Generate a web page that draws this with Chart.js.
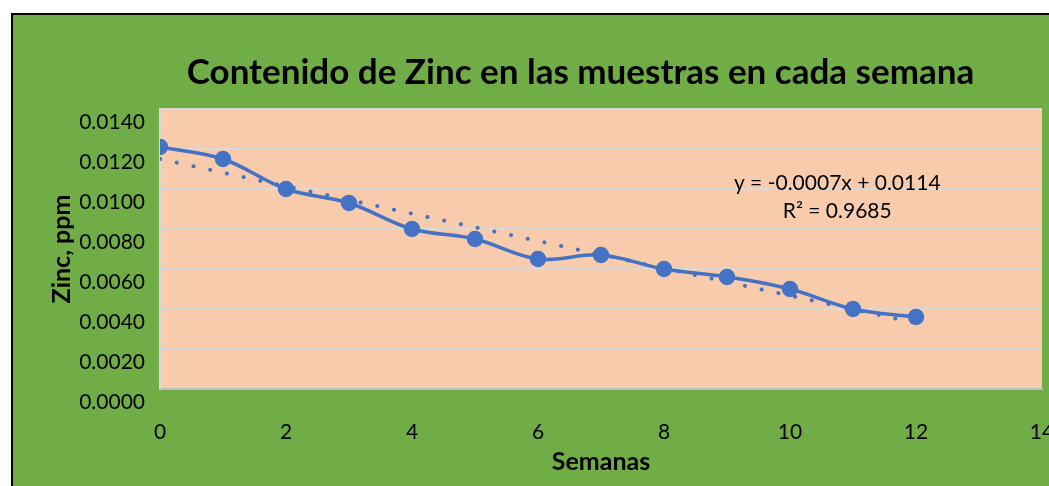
<!DOCTYPE html>
<html>
<head>
<meta charset="utf-8">
<script src="https://cdn.jsdelivr.net/npm/chart.js@4/dist/chart.umd.min.js"></script>
<style>
    body { margin: 0; background: #fff; overflow: hidden; width: 1049px; height: 486px; }
    .frame {
        position: absolute; left: 11px; top: 13px; width: 1200px; height: 600px;
        background: #70AD47; border-left: 2px solid #000; border-top: 2px solid #000;
    }
    #zincChart { position: absolute; left: 0; top: 0; }
</style>
</head>
<body>
<div class="frame"></div>
<canvas id="zincChart" width="1161" height="486"></canvas>
<script>
// values
const weeks = [0, 1, 2, 3, 4, 5, 6, 7, 8, 9, 10, 11, 12];
const zinc = [0.0121, 0.0115, 0.0100, 0.0093, 0.0080, 0.0075, 0.0065, 0.0067, 0.0060, 0.0056, 0.0050, 0.0040, 0.0036];
const trendWeeks = [0, 12];
const trendZinc = [0.0115, 0.0033];
const equationLines = ['y = -0.0007x + 0.0114', 'R\u00B2 = 0.9685'];
const equationAt = { x: 10.75, y: 0.0103 };

const chartTitle = 'Contenido de Zinc en las muestras en cada semana';
const xTitle = 'Semanas';
const yTitle = 'Zinc, ppm';

const blue = '#4472C4';

const plotBackground = {
    id: 'plotBackground',
    beforeDraw(chart) {
        const { ctx, chartArea } = chart;
        ctx.save();
        ctx.fillStyle = '#F8CBAD';
        ctx.fillRect(chartArea.left, chartArea.top, chartArea.right - chartArea.left, chartArea.bottom - chartArea.top);
        ctx.restore();
    }
};

// trendline equation, placed through the scales
const equationLabel = {
    id: 'equationLabel',
    afterDraw(chart) {
        const { ctx, scales } = chart;
        const px = scales.x.getPixelForValue(equationAt.x);
        const py = scales.y.getPixelForValue(equationAt.y);
        ctx.save();
        ctx.font = '21px Lato';
        ctx.fillStyle = '#000';
        ctx.textAlign = 'center';
        ctx.textBaseline = 'middle';
        equationLines.forEach((line, i) => ctx.fillText(line, px, py + i * 28));
        ctx.restore();
    }
};

const ctx = document.getElementById('zincChart').getContext('2d');
new Chart(ctx, {
    type: 'scatter',
    data: {
        datasets: [{
            label: 'Zinc',
            data: weeks.map((w, i) => ({ x: w, y: zinc[i] })),
            showLine: true,
            borderColor: blue,
            backgroundColor: blue,
            borderWidth: 3.5,
            pointRadius: 6.5,
            pointHoverRadius: 6.5,
            tension: 0.35,
        }, {
            label: 'Tendencia',
            data: trendWeeks.map((w, i) => ({ x: w, y: trendZinc[i] })),
            showLine: true,
            borderColor: blue,
            borderWidth: 4,
            borderDash: [0.1, 17],
            borderCapStyle: 'round',
            pointRadius: 0,
            tension: 0,
        }]
    },
    options: {
        responsive: false,
        animation: false,
        devicePixelRatio: 1,
        layout: { padding: 0 },
        plugins: {
            legend: { display: false },
            tooltip: { enabled: false },
            title: {
                display: true,
                text: chartTitle,
                color: '#000',
                font: { family: 'Lato', size: 35, weight: 'bold' },
                padding: { top: 52, bottom: 15 }
            }
        },
        scales: {
            x: {
                type: 'linear',
                min: 0,
                max: 14,
                ticks: {
                    stepSize: 2,
                    color: '#000',
                    padding: 31,
                    font: { family: 'Lato', size: 21 }
                },
                grid: { display: false, drawTicks: false },
                border: { display: true, color: '#BFBFBF', width: 2 },
                title: {
                    display: true,
                    text: xTitle,
                    color: '#000',
                    font: { family: 'Lato', size: 25, weight: 'bold' },
                    padding: { top: 0, bottom: 9 }
                },
                afterFit(scale) { scale.height = 97; }
            },
            y: {
                min: 0,
                max: 0.014,
                ticks: {
                    stepSize: 0.002,
                    color: '#000',
                    padding: 15,
                    labelOffset: 13,
                    font: { family: 'Lato', size: 21 },
                    callback: (value) => value.toFixed(4)
                },
                grid: { color: '#D9D9D9', lineWidth: 2, drawTicks: false },
                border: { display: true, color: '#D9D9D9', width: 2 },
                title: {
                    display: true,
                    text: yTitle,
                    color: '#000',
                    font: { family: 'Lato', size: 25, weight: 'bold' },
                    padding: { top: 47, bottom: 0 }
                },
                afterFit(scale) { scale.width = 160; }
            },
            // empty right axis so the plot stops where the reference's does
            spacer: {
                type: 'linear',
                position: 'right',
                display: true,
                ticks: { display: false },
                grid: { display: false, drawTicks: false },
                border: { display: false },
                afterFit(scale) { scale.width = 119; }
            }
        }
    },
    plugins: [plotBackground, equationLabel]
});
</script>
</body>
</html>
